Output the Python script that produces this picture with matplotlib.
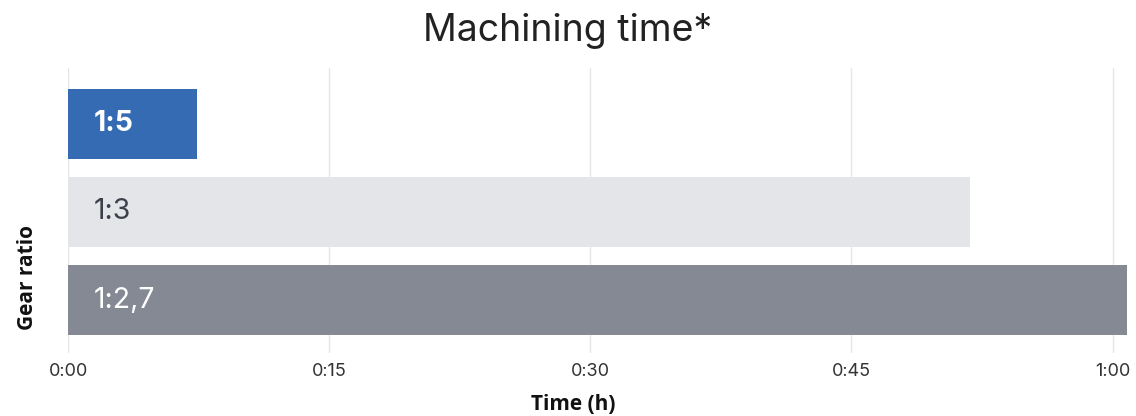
import matplotlib
matplotlib.use("Agg")
import matplotlib.pyplot as plt

categories = ["1:5", "1:3", "1:2,7"]
minutes = [7.4, 51.8, 60.8]
tick_values = [0, 15, 30, 45, 60]
tick_labels = ["0:00", "0:15", "0:30", "0:45", "1:00"]
bar_colors = ["#346bb3", "#e4e5e9", "#848994"]
label_colors = ["#ffffff", "#3b404a", "#ffffff"]
label_weights = ["bold", "normal", "normal"]

W, H = 1136, 416
fig = plt.figure(figsize=(W / 100, H / 100), dpi=100)
ax = fig.add_axes([68 / W, (H - 353) / H, (1130 - 68) / W, (353 - 68) / H])

ypos = list(range(len(categories)))
ax.barh(ypos, minutes, height=0.795, color=bar_colors, zorder=2)
for y, cat, c, w in zip(ypos, categories, label_colors, label_weights):
    ax.text(1.45, y, cat, color=c, fontsize=20.5, fontweight=w, family="Inter",
            va="center", ha="left", zorder=3)

ax.set_xlim(0, 61.0)
ax.set_ylim(2.602, -0.636)
ax.set_xticks(tick_values)
ax.set_xticklabels(tick_labels, family="Inter", fontsize=13, color="#333333")
ax.get_xticklabels()[0].set_x(0.35)
ax.set_yticks([])
ax.tick_params(axis="x", length=0, pad=7)
ax.xaxis.grid(True, color="#e6e6e6", linewidth=1, zorder=0)
ax.set_axisbelow(True)
for s in ax.spines.values():
    s.set_visible(False)

fig.text(568 / W, 1 - 31 / H, "Machining time*", ha="center", va="center",
         family="Inter", fontsize=27, color="#222222")
fig.text(573 / W, 1 - 405 / H, "Time (h)", ha="center", va="center",
         family="Open Sans", fontweight="bold", fontsize=15, color="#111111")
fig.text(28 / W, 1 - 278 / H, "Gear ratio", ha="center", va="center",
         rotation=90, family="Open Sans", fontweight="bold", fontsize=15,
         color="#111111")

fig.savefig("out.png", dpi=100)
